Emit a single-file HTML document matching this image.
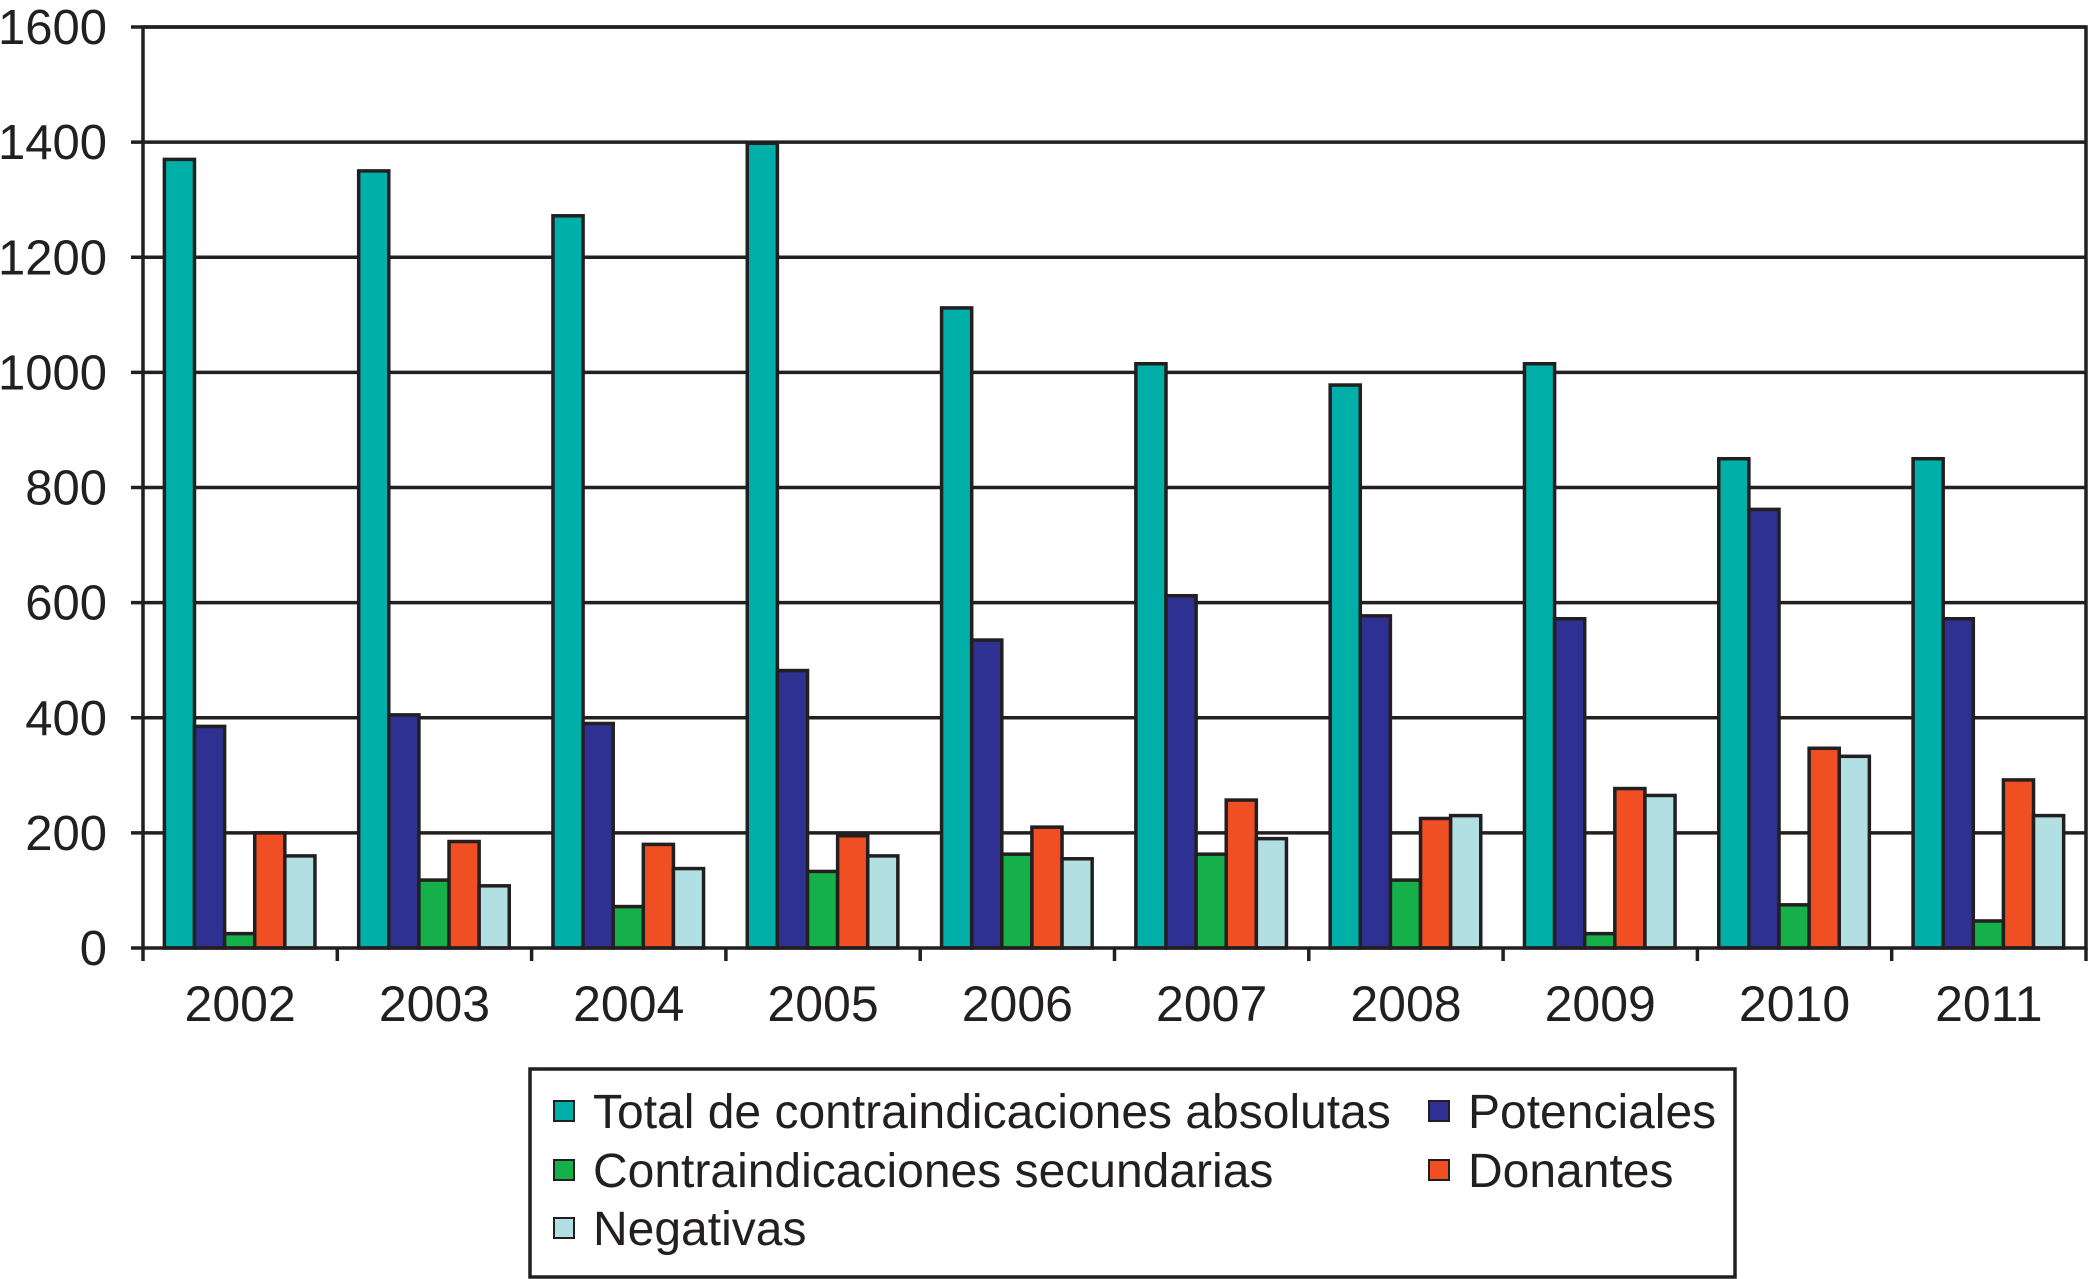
<!DOCTYPE html>
<html><head><meta charset="utf-8"><style>
html,body{margin:0;padding:0;background:#fff}
svg{display:block;font-family:"Liberation Sans",Arial,sans-serif}
</style></head><body>
<svg id="chart" width="2090" height="1279" viewBox="0 0 2090 1279">
<g id="grid"></g>
<g id="bars"></g>
<g id="axes"></g>
<g>
<rect x="530" y="1069" width="1205" height="208" fill="#fff" stroke="#231f20" stroke-width="3.5"/>
<g><rect x="554" y="1101" width="20" height="20" fill="#00b0a8" stroke="#231f20" stroke-width="2"/><text x="593" y="1128" font-size="48" fill="#231f20">Total de contraindicaciones absolutas</text></g>
<g><rect x="1429" y="1101" width="20" height="20" fill="#2e3192" stroke="#231f20" stroke-width="2"/><text x="1468" y="1128" font-size="48" fill="#231f20">Potenciales</text></g>
<g><rect x="554" y="1160" width="20" height="20" fill="#16b04a" stroke="#231f20" stroke-width="2"/><text x="593" y="1187" font-size="48" fill="#231f20">Contraindicaciones secundarias</text></g>
<g><rect x="1429" y="1160" width="20" height="20" fill="#f04e23" stroke="#231f20" stroke-width="2"/><text x="1468" y="1187" font-size="48" fill="#231f20">Donantes</text></g>
<g><rect x="554" y="1218" width="20" height="20" fill="#b2e0e2" stroke="#231f20" stroke-width="2"/><text x="593" y="1245" font-size="48" fill="#231f20">Negativas</text></g>
</g>
</svg>
<script>
const categories=["2002","2003","2004","2005","2006","2007","2008","2009","2010","2011"];
const total=[1370,1350,1272,1398,1112,1015,978,1015,850,850];
const potenciales=[385,405,390,482,535,612,577,572,762,572];
const secundarias=[25,118,72,133,163,163,118,25,75,47];
const donantes=[200,185,180,195,210,257,225,277,347,292];
const negativas=[160,108,138,160,155,190,230,265,333,230];
const yTicks=[0,200,400,600,800,1000,1200,1400,1600];
const series=[total,potenciales,secundarias,donantes,negativas];
const colors=["#00b0a8","#2e3192","#16b04a","#f04e23","#b2e0e2"];
const names=["total","potenciales","secundarias","donantes","negativas"];
const L=143,R=2086,T=27,B=948,YMAX=1600;
const NS="http://www.w3.org/2000/svg";
const y=v=>B-(v/YMAX)*(B-T);
const gw=(R-L)/categories.length;
const x=i=>L+i*gw;
function mk(tag,attrs,parent){const e=document.createElementNS(NS,tag);for(const k in attrs)e.setAttribute(k,attrs[k]);parent.appendChild(e);return e;}
const grid=document.getElementById('grid'),bars=document.getElementById('bars'),axes=document.getElementById('axes');
yTicks.forEach(t=>{
  if(t>0){const g=mk('line',{x1:L,x2:R,y1:y(t),y2:y(t),stroke:'#231f20','stroke-width':3.5},grid);
  
  }
  const tk=mk('line',{x1:L-12,x2:L,y1:y(t),y2:y(t),stroke:'#231f20','stroke-width':3.5},axes);
  
  
  const tx=mk('text',{x:107,y:y(t)+17,'text-anchor':'end','font-size':49,fill:'#231f20'},axes);
  tx.textContent=t;
  
  
});
const bw=gw*0.155,off=gw*0.11;
categories.forEach((c,i)=>{
  series.forEach((s,j)=>{
    const r=mk('rect',{x:x(i)+off+j*bw,y:y(s[i]),width:bw,height:B-y(s[i]),fill:colors[j],stroke:'#231f20','stroke-width':3.5},bars);
    
    
  });
  const lb=mk('text',{x:x(i)+gw/2,y:1021,'text-anchor':'middle','font-size':50,fill:'#231f20'},axes);
  lb.textContent=c;
  
  
});
for(let i=0;i<=categories.length;i++){
  const tk=mk('line',{x1:x(i),x2:x(i),y1:B,y2:B+13,stroke:'#231f20','stroke-width':3.5},axes);
  
  
}
const fr=mk('path',{d:`M${L},${B} L${L},${T} L${R},${T} L${R},${B} Z`,fill:'none',stroke:'#231f20','stroke-width':3.5},axes);


</script>
</body></html>
